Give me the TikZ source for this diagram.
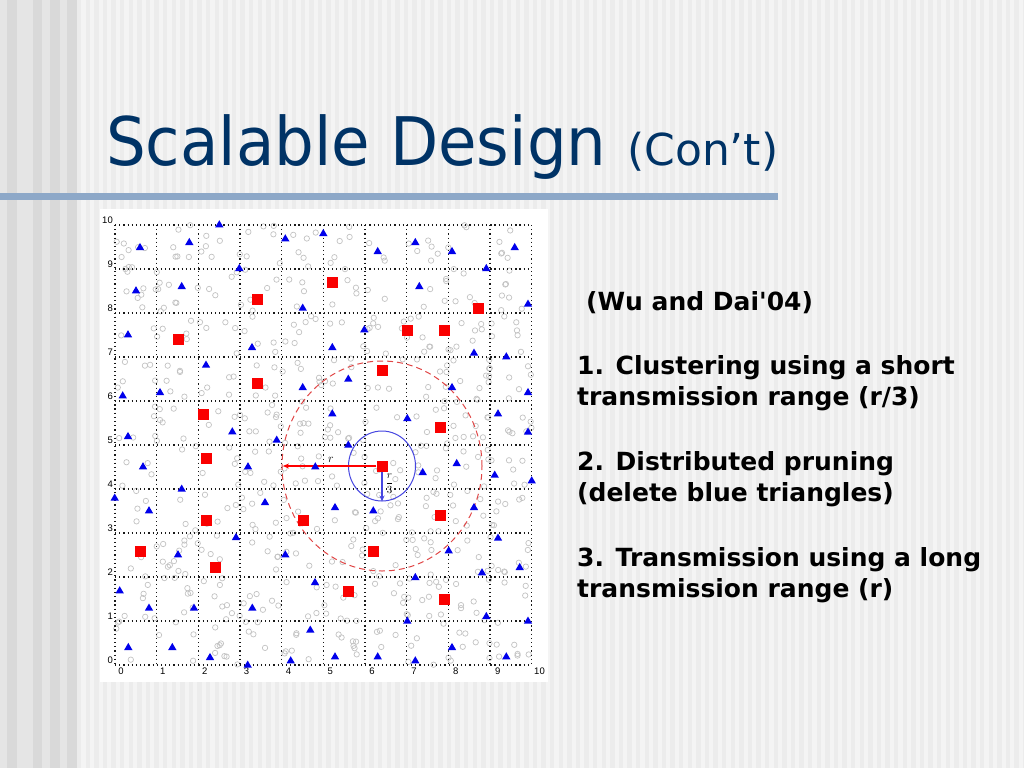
\documentclass[tikz,border=0pt]{standalone}
\usepackage{fontspec}
\setmainfont{DejaVu Sans}
\newfontfamily\bodyfont{DejaVu Sans}[Ligatures=TeXOff]
\newfontfamily\axisfont{Liberation Sans}
\usetikzlibrary{arrows.meta}
\definecolor{navy}{RGB}{0,51,102}
\definecolor{barblue}{RGB}{141,168,200}
\definecolor{bgbase}{RGB}{244,244,244}
\definecolor{bgstripe}{RGB}{236,236,236}
\definecolor{leftbase}{RGB}{229,229,229}
\definecolor{leftdark}{RGB}{217,217,217}
\definecolor{nodegray}{RGB}{195,195,195}
\definecolor{triblue}{RGB}{0,0,235}
\definecolor{sqred}{RGB}{250,0,0}
\definecolor{dashred}{RGB}{225,70,70}
\definecolor{circblue}{RGB}{70,70,225}
\tikzset{
  gridl/.style={black!90, line width=1.2pt, dash pattern=on 1.2pt off 2.97pt},
  tick/.style={inner sep=0pt, font=\axisfont\fontsize{9.5}{10}\selectfont},
  sq/.style={fill=sqred, minimum size=11pt, inner sep=0pt},
  bodytext/.style={anchor=base west, inner sep=0pt, font=\bodyfont\bfseries\fontsize{25}{30}\selectfont},
  nodec/.style={draw=nodegray, line width=0.7pt},
  longrange/.style={draw=dashred, line width=1pt, dash pattern=on 6pt off 4pt},
  shortrange/.style={draw=circblue, line width=1pt},
  redarrow/.style={draw=red, line width=1.4pt, -{Stealth[length=6pt,width=5pt]}},
  bluearrow/.style={draw=circblue, line width=1.1pt, -{Stealth[length=6pt,width=5pt]}}
}
\begin{document}
\begin{tikzpicture}[x=1pt,y=-1pt]
\useasboundingbox (0,0) rectangle (1024,768);
% background
\fill[bgbase] (0,0) rectangle (1024,768);
\foreach \i in {0,...,110}{
  \pgfmathsetmacro\xx{77+8.6*\i}
  \fill[bgstripe] (\xx,0) rectangle ++(4.3,768);
}
\fill[leftbase] (0,0) rectangle (77,768);
\foreach \a/\b in {7/17,33/42,50/60,67/77}{
  \fill[leftdark] (\a,0) rectangle (\b,768);
}
% title bar and title
\fill[barblue] (0,192.5) rectangle (778,199.5);
\node[anchor=base west, inner sep=0pt, text=navy] (title) at (106,165)
  {\scalebox{0.935}[1]{\fontsize{67}{80}\selectfont Scalable Design}};
\node[anchor=base west, inner sep=0pt, text=navy] (cont) at (627,165)
  {\fontsize{44}{52}\selectfont (Con’t)};
% plot area
\fill[white] (100,209) rectangle (548,682);
\pgfmathsetseed{4711}
\foreach \i in {1,...,600}{
  \pgfmathsetmacro\cx{115+417*rnd}
  \pgfmathsetmacro\cy{225+440*rnd}
  \draw[nodec] (\cx,\cy) circle[radius=2.7pt];
}
\foreach \k in {0,...,10}{
  \pgfmathsetmacro\gx{115+41.67*\k}
  \pgfmathsetmacro\gy{225+44*\k}
  \draw[gridl] (\gx,225) -- (\gx,665);
  \draw[gridl] (115,\gy) -- (531.7,\gy);
}
\foreach \k in {0,...,10}{
  \pgfmathsetmacro\lx{121+41.85*\k}
  \pgfmathsetmacro\ly{660-44*\k}
  \node[tick] (xl\k) at (\lx,671) {\k};
  \node[tick, anchor=east] (yl\k) at (113,\ly) {\k};
}
% central cluster head and ranges
\node[sq] (c) at (382,466) {};
\draw[longrange] (c.center) ellipse [x radius=100pt, y radius=105pt];
\draw[shortrange] (c.center) ellipse [x radius=33.5pt, y radius=35pt];
\coordinate (rend) at (283,466);
\coordinate (r3end) at (382,501.5);
\draw[redarrow] (c) -- (rend);
\draw[bluearrow] (c) -- (r3end);
\node[inner sep=0pt, font=\fontsize{12}{13}\selectfont] (rlab) at (331,459.5) {$r$};
\node[inner sep=0pt, font=\fontsize{10.5}{12}\selectfont] (r3lab) at (389.5,484) {$\displaystyle\frac{r}{3}$};
% blue triangles
\foreach \x/\y in {
219.3/224, 140/246.7, 189.3/241.7, 239.3/267.7, 285.3/238, 323.3/232.7,
136/290, 181.7/285.7, 302.7/307.3, 128/334, 252/346.7, 206/364.3,
122.7/395, 160/391.7, 302.7/386.7, 232.3/431, 128/435.7, 276.7/439.3,
377.7/250.7, 415.3/241.7, 452/250.7, 514.7/246.7, 486.3/267.7, 419.3/285.7,
528/303.3, 364.3/329, 332.3/346.7, 474/352.3, 506.3/356, 348.3/378.3,
452/386.7, 528/391.7, 332.3/413, 407.3/417.7, 498/413, 528/431.3, 348.3/444.3,
143/466, 248/466, 315.3/466, 181.7/488.3, 114.7/497.3, 149/510, 265/501.7,
236/536.7, 178/554, 285.3/554, 315/581.7, 119.7/590, 149/607.3, 194/607.3,
252.3/607.3, 310.3/629.3, 128.3/646.7, 172.3/646.7, 210/656.7, 247.7/664.3,
290.7/660,
456.7/462.7, 422.7/471.7, 494.7/474.3, 531.7/480, 335/506.7, 373.3/510,
474/506.7, 498/537.3, 448.7/550, 519.7/566.7, 482/572, 415.3/576.7,
486.3/615.7, 528/620.3, 407.3/620.3, 335/656, 377.7/656, 415.3/660,
452/646.7, 506.3/656}{
  \fill[triblue] (\x-4.2,\y+3.4) -- (\x+4.2,\y+3.4) -- (\x,\y-3.8) -- cycle;
}
% red squares (cluster heads)
\foreach \x/\y [count=\i] in {
257/299, 332/282, 478/308, 407/330, 444/330, 178/339, 257/383, 382/370,
203/414, 440/427, 206/458, 206/520, 303/520, 440/515, 140/551, 373/551,
215/567, 348/591, 444/599}{
  \node[sq] (s\i) at (\x,\y) {};
}
\node[sq] (c2) at (c) {};
% text
\node[bodytext] (ref) at (586,310) {(Wu and Dai'04)};
\node[bodytext] (l1a) at (577,374) {1. Clustering using a short};
\node[bodytext] (l1b) at (577,405.5) {transmission range (r/3)};
\node[bodytext] (l2a) at (577,470) {2. Distributed pruning};
\node[bodytext] (l2b) at (577,501) {(delete blue triangles)};
\node[bodytext] (l3a) at (577,566.5) {3. Transmission using a long};
\node[bodytext] (l3b) at (577,597) {transmission range (r)};
\end{tikzpicture}
\end{document}
